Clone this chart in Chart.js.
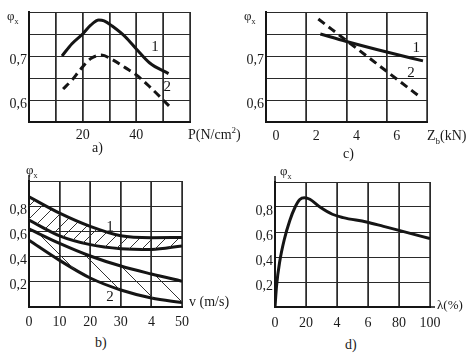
<!DOCTYPE html>
<html>
<head>
<meta charset="utf-8">
<script src="https://cdn.jsdelivr.net/npm/chart.js@4.4.1/dist/chart.umd.min.js"></script>
<style>
  body { margin: 0; background: #fff; }
  #wrap { position: relative; width: 467px; height: 354px; overflow: hidden; font-family: "Liberation Serif", "Times New Roman", serif; color: #1a1a1a; }
  .box { position: absolute; }
  .txt { position: absolute; font-size: 14px; white-space: nowrap; line-height: 1; }
  .phi { font-size: 13px; }
  .phi sub { font-size: 8px; }
</style>
</head>
<body>
<div id="wrap">
  <div class="box" style="left:0;top:0"><canvas id="chartA" width="200" height="145"></canvas></div>
  <div class="box" style="left:233px;top:0"><canvas id="chartC" width="234" height="145"></canvas></div>
  <div class="box" style="left:0;top:170px"><canvas id="chartB" width="233" height="165"></canvas></div>
  <div class="box" style="left:233px;top:170px"><canvas id="chartD" width="234" height="165"></canvas></div>

  <div class="txt phi" style="left:7px;top:9px">φ<sub>x</sub></div>
  <div class="txt phi" style="left:244px;top:9px">φ<sub>x</sub></div>
  <div class="txt phi" style="left:26px;top:163px">φ<sub>x</sub></div>
  <div class="txt phi" style="left:280px;top:164px">φ<sub>x</sub></div>

  <div class="txt" style="left:188px;top:126px">P(N/cm<sup style="font-size:9px">2</sup>)</div>
  <div class="txt" style="left:427px;top:129px">Z<sub style="font-size:9px">b</sub>(kN)</div>
  <div class="txt" style="left:189px;top:295px">v (m/s)</div>
  <div class="txt" style="left:437px;top:298px;font-size:13px">λ(%)</div>

  <div class="txt" style="left:92px;top:141px">a)</div>
  <div class="txt" style="left:343px;top:147px">c)</div>
  <div class="txt" style="left:95px;top:336px">b)</div>
  <div class="txt" style="left:345px;top:338px">d)</div>
</div>

<script>
// a) phi vs P (N/cm2)
var aCurve1X = [12.3, 16, 20, 23, 26, 28, 31, 36, 40, 45, 52];
var aCurve1Y = [0.70, 0.728, 0.75, 0.77, 0.782, 0.78, 0.768, 0.743, 0.716, 0.684, 0.66];
var aCurve2X = [12.7, 16, 19, 23, 27, 31, 36, 40, 45, 52.6];
var aCurve2Y = [0.625, 0.645, 0.668, 0.694, 0.702, 0.692, 0.673, 0.657, 0.63, 0.584];
var aXLabels = ['', '', '20', '', '40', '', ''];
var aYLabels = [0.6, 0.7];

// c) phi vs Zb (kN)
var cCurve1X = [2.7, 4, 6, 7.8];
var cCurve1Y = [0.75, 0.733, 0.709, 0.689];
var cCurve2X = [2.6, 4, 6, 7.6];
var cCurve2Y = [0.784, 0.735, 0.665, 0.609];
var cXLabels = ['0', '2', '4', '6', ''];
var cYLabels = [0.6, 0.7];

// b) phi vs v (m/s), two hatched bands
var bX = [0, 10, 20, 30, 40, 50];
var bBand1Upper = [0.875, 0.745, 0.64, 0.565, 0.55, 0.552];
var bBand1Lower = [0.69, 0.565, 0.495, 0.463, 0.457, 0.485];
var bBand2Upper = [0.62, 0.505, 0.405, 0.325, 0.262, 0.205];
var bBand2Lower = [0.53, 0.37, 0.23, 0.135, 0.072, 0.035];
var bXLabels = ['0', '10', '20', '30', '4', '50'];
var bYLabels = [0.2, 0.4, 0.6, 0.8];

// d) phi vs lambda (%)
var dX = [0, 1, 3, 6, 9.5, 13, 16, 19, 22.5, 29, 37, 44, 59, 70, 80, 100];
var dY = [0, 0.17, 0.36, 0.54, 0.69, 0.8, 0.86, 0.875, 0.862, 0.8, 0.742, 0.715, 0.68, 0.645, 0.613, 0.547];
var dXLabels = ['0', '20', '4', '6', '80', '100'];
var dYLabels = [0.2, 0.4, 0.6, 0.8];

var INK = '#151515';
var GRID = '#2a2a2a';
var SERIF = '"Liberation Serif", "Times New Roman", serif';
var FONT = { family: SERIF, size: 14 };

function pts(xs, ys) {
  return xs.map(function (x, i) { return { x: x, y: ys[i] }; });
}

function fmt(v) {
  return v.toFixed(1).replace('.', ',');
}

function hatch(size, dir) {
  var c = document.createElement('canvas');
  c.width = c.height = size;
  var g = c.getContext('2d');
  g.strokeStyle = '#333';
  g.lineWidth = 1;
  g.beginPath();
  if (dir === '/') {
    g.moveTo(-1, size + 1); g.lineTo(size + 1, -1);
  } else {
    g.moveTo(-1, -1); g.lineTo(size + 1, size + 1);
  }
  g.stroke();
  return g.createPattern(c, 'repeat');
}

function curve(data, dashed, extra) {
  var ds = {
    data: data,
    borderColor: INK,
    borderWidth: 3,
    pointRadius: 0,
    cubicInterpolationMode: 'monotone',
    fill: false
  };
  if (dashed) ds.borderDash = [8, 5];
  return Object.assign(ds, extra || {});
}

// vertical grid from the x scale ticks (slid under the curves), curve numbers, axis stubs
var notes = {
  id: 'notes',
  afterDatasetsDraw: function (chart, args, opts) {
    var ctx = chart.ctx, xs = chart.scales.x, ys = chart.scales.y, a = chart.chartArea;
    ctx.save();
    ctx.globalCompositeOperation = 'destination-over';
    ctx.strokeStyle = GRID;
    ctx.lineWidth = 1.5;
    xs.ticks.forEach(function (t) {
      var px = Math.round(xs.getPixelForValue(t.value));
      ctx.beginPath(); ctx.moveTo(px, a.top); ctx.lineTo(px, a.bottom); ctx.stroke();
    });
    ctx.restore();

    ctx.save();
    ctx.fillStyle = INK;
    ctx.font = '15px ' + SERIF;
    ctx.textAlign = 'center';
    ctx.textBaseline = 'middle';
    (opts.items || []).forEach(function (it) {
      ctx.fillText(it.text, xs.getPixelForValue(it.x), ys.getPixelForValue(it.y));
    });
    ctx.strokeStyle = INK;
    ctx.lineWidth = 1.5;
    if (opts.up) {
      ctx.beginPath(); ctx.moveTo(a.left, a.top); ctx.lineTo(a.left, a.top - opts.up); ctx.stroke();
    }
    if (opts.right) {
      ctx.beginPath(); ctx.moveTo(a.right, a.bottom); ctx.lineTo(a.right + opts.right, a.bottom); ctx.stroke();
    }
    ctx.restore();
  }
};

function makeChart(id, datasets, cfg) {
  var yl = cfg.yLabels, xl = cfg.xLabels;
  return new Chart(document.getElementById(id), {
    type: 'line',
    data: { datasets: datasets },
    plugins: [notes],
    options: {
      responsive: false,
      animation: false,
      layout: { padding: { top: cfg.padTop, right: cfg.padRight, left: 0, bottom: 0 } },
      plugins: {
        legend: { display: false },
        tooltip: { enabled: false },
        notes: { items: cfg.notes, up: cfg.up, right: cfg.right },
        filler: { propagate: false }
      },
      scales: {
        x: {
          type: 'linear',
          min: cfg.xMin, max: cfg.xMax,
          afterFit: function (s) { s.height = cfg.xH; },
          grid: { display: true, drawOnChartArea: true, color: GRID, lineWidth: 1, drawTicks: false },
          border: { display: true, color: INK, width: 2 },
          ticks: {
            stepSize: cfg.xStep,
            color: '#1a1a1a',
            font: FONT,
            padding: cfg.xPad,
            labelOffset: cfg.xOffset || 0,
            maxRotation: 0,
            autoSkip: false,
            callback: function (v, i) { return xl[i] || ''; }
          }
        },
        y: {
          type: 'linear',
          min: cfg.yMin, max: cfg.yMax,
          afterFit: function (s) { s.width = cfg.yW; },
          grid: { color: GRID, lineWidth: 1, drawTicks: false },
          border: { display: true, color: INK, width: 2 },
          ticks: {
            stepSize: cfg.yStep,
            color: '#1a1a1a',
            font: FONT,
            padding: 2,
            labelOffset: 4,
            autoSkip: false,
            callback: function (v) {
              for (var k = 0; k < yl.length; k++) {
                if (Math.abs(v - yl[k]) < 1e-6) return fmt(yl[k]);
              }
              return '';
            }
          }
        }
      }
    }
  });
}

makeChart('chartA', [
  curve(pts(aCurve1X, aCurve1Y), false),
  curve(pts(aCurve2X, aCurve2Y), true)
], {
  xMin: 0, xMax: 60, xStep: 10, yMin: 0.55, yMax: 0.8, yStep: 0.05,
  xLabels: aXLabels, yLabels: aYLabels,
  padTop: 12, padRight: 10, yW: 29, xH: 23, xPad: 5,
  notes: [{ x: 47, y: 0.72, text: '1' }, { x: 51.5, y: 0.63, text: '2' }]
});

makeChart('chartC', [
  curve(pts(cCurve1X, cCurve1Y), false, { tension: 0 }),
  curve(pts(cCurve2X, cCurve2Y), true, { tension: 0 })
], {
  xMin: 0, xMax: 8, xStep: 2, yMin: 0.55, yMax: 0.8, yStep: 0.05,
  xLabels: cXLabels, yLabels: cYLabels,
  padTop: 12, padRight: 40, yW: 33, xH: 23, xPad: 6, xOffset: 10,
  notes: [{ x: 7.46, y: 0.718, text: '1' }, { x: 7.2, y: 0.661, text: '2' }]
});

makeChart('chartB', [
  curve(pts(bX, bBand1Upper), false, { fill: '+1', backgroundColor: hatch(13, '/') }),
  curve(pts(bX, bBand1Lower), false),
  curve(pts(bX, bBand2Upper), false, { fill: '+1', backgroundColor: hatch(25, '\\') }),
  curve(pts(bX, bBand2Lower), false)
], {
  xMin: 0, xMax: 50, xStep: 10, yMin: 0, yMax: 1, yStep: 0.2,
  xLabels: bXLabels, yLabels: bYLabels,
  padTop: 11, padRight: 51, yW: 29, xH: 28, xPad: 7,
  notes: [{ x: 26.5, y: 0.635, text: '1' }, { x: 26.5, y: 0.08, text: '2' }],
  up: 6
});

makeChart('chartD', [
  curve(pts(dX, dY), false)
], {
  xMin: 0, xMax: 100, xStep: 20, yMin: 0, yMax: 1, yStep: 0.2,
  xLabels: dXLabels, yLabels: dYLabels,
  padTop: 12, padRight: 37, yW: 42, xH: 28, xPad: 8,
  notes: [],
  up: 6, right: 5
});
</script>
</body>
</html>
